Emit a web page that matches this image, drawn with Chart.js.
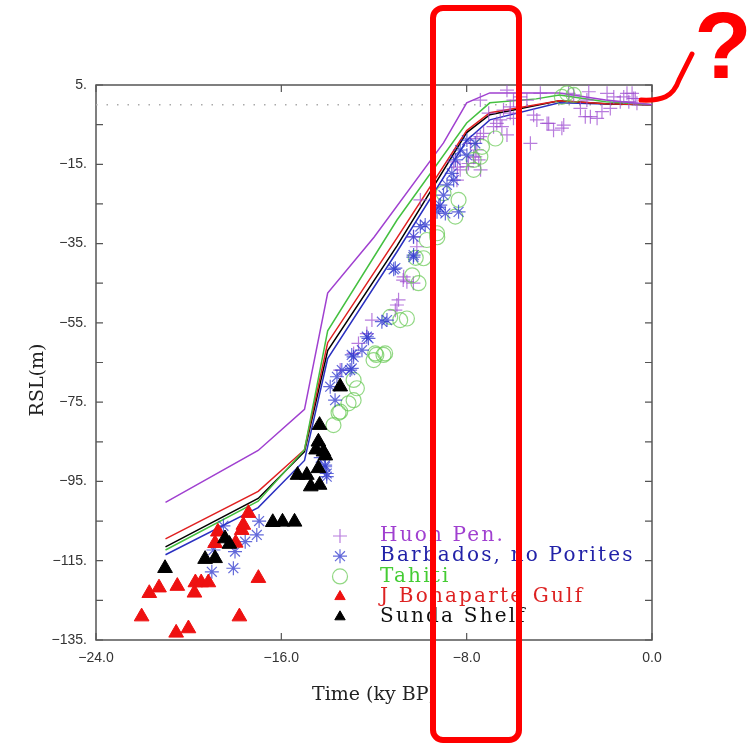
<!DOCTYPE html>
<html lang="en">
<head>
<meta charset="UTF-8">
<title>RSL since LGM</title>
<script src="https://cdn.jsdelivr.net/npm/chart.js"></script>
<style>
    body { margin: 0; padding: 0; background: #fff; }
    #wrap { width: 750px; height: 745px; }
</style>
</head>
<body>
<div id="wrap"><canvas id="rslChart" width="750" height="745"></canvas></div>
<script>
// axis ticks
const xTicks = [-24, -16, -8, 0];
const yTicks = [5, -5, -15, -25, -35, -45, -55, -65, -75, -85, -95, -105, -115, -125, -135];

// model curves (ky BP, m)
const huonModelAge = [-21, -17, -15, -14, -12, -9, -8, -7, -4, -2, 0];
const huonModelRsl = [-100.3, -87.2, -76.8, -47.5, -33.4, -9.6, 0.5, 3, 3, 1.2, 0];
const tahitiModelAge = [-21, -17, -15, -14, -11, -8, -7, -5, -4, -2, 0];
const tahitiModelRsl = [-112.3, -100, -87, -57, -29, -4.6, 0.5, 1.5, 2.5, 0.8, 0];
const bonaparteModelAge = [-21, -17, -15, -14, -11, -8, -7, -4, -2, 0];
const bonaparteModelRsl = [-109.5, -97.5, -87, -60, -33.5, -6.5, -2, 1, 0.3, 0];
const sundaModelAge = [-21, -17, -15, -14, -11, -8, -7, -4, -2, 0];
const sundaModelRsl = [-111.5, -99.3, -87.5, -62, -35.5, -7, -2.5, 1, 0.3, 0];
const barbadosModelAge = [-21, -17, -15, -14, -11, -8, -7, -4, -2, 0];
const barbadosModelRsl = [-113.5, -101.6, -89.7, -64, -37, -9, -3.8, 0.5, 0.2, 0];

// observations
const huonAge = [-12.09, -12.67, -12.31, -13.46, -11.08, -11.01, -10.72, -10.58, -10.94, -12.88, -10.15,
    -10.3, -10.74, -8.4, -7.7, -7.4, -10.0, -10.3,
    -7.27, -7.56, -6.84, -6.55, -6.12, -5.98, -5.40, -5.25, -4.53, -7.63, -7.99, -8.56, -7.05, -6.41, -6.26, -7.41,
    -4.46, -3.81, -4.97, -3.09, -2.66, -2.37, -2.16, -1.80, -1.65, -1.08, -1.37, -6.70, -7.41, -7.84, -7.56, -7.48,
    -7.92, -8.28, -8.42, -6.12, -5.98, -5.69, -4.82, -4.25, -3.89, -3.38, -2.81, -1.94, -0.86, -0.72,
    -2.88, -1.22, -1.00, -0.79, -0.65, -2.73, -3.60, -5.11, -6.48, -6.26];
const huonRsl = [-54.3, -60.2, -57.7, -66.9, -51.8, -50.5, -43.4, -44.6, -49.2, -62.7, -35.8,
    -45, -44.2, -15.7, -13.2, -16.4, -24.0, -33.3,
    -7.2, -8.5, -5.5, -3.8, -2.1, 1.2, 1.2, -9.7, -4.7, -13.1, -15.6, -14.4, -2.1, -1.3, 3.7, 1.2,
    -4.7, -5.1, -3.8, -0.9, -3.0, -3.4, -1.7, -0.9, 2.0, 2.9, 0.8, -4.7, -8.0, -9.7, -11.4, -13.9,
    -14.8, -16.4, -19, -0.5, -3.4, 2.0, 2.9, -6.4, -5.9, 2.5, 1.2, 2.9, 2.9, 1.6,
    -3.0, 2.0, 0.8, 1.6, 0.4, 3.3, 2.9, -2.6, -5.5, -7.6];

const barbadosAge = [-19.00, -18.07, -18.00, -17.56, -17.06, -16.96, -18.50, -18.93, -14.11, -14.04, -14.3,
    -13.68, -13.89, -13.03, -13.39, -13.60, -12.96, -12.88, -12.52, -12.24, -11.66, -11.44, -12.31, -12.96,
    -11.15, -10.29, -10.0, -10.29, -9.14, -9.28, -9.0, -8.56, -7.99, -7.63, -8.35, -8.92, -8.85, -8.64,
    -8.49, -8.28, -7.99, -9.2, -9.79, -10.3, -11.08, -14.11, -14.04];
const barbadosRsl = [-117.8, -116.9, -112.7, -110.2, -108.5, -105, -106.2, -112.3, -90.9, -93.8, -89,
    -74.5, -71.1, -66.9, -66.9, -68.6, -66.5, -63.6, -61.9, -58.9, -54.7, -54.3, -58.5, -63.1,
    -41.5, -37.9, -30.7, -33.3, -25.3, -27.0, -22.8, -19.0, -12.7, -9.7, -27.0, -27.4, -20.2, -17.3,
    -13.9, -11.4, -8.9, -25.8, -30.3, -38.4, -41.2, -91.3, -93.0];

const tahitiAge = [-13.75, -13.53, -13.10, -12.74, -12.88, -12.02, -11.52, -11.95, -12.88, -13.46, -10.87,
    -10.58, -11.30, -10.08, -11.59, -9.72, -9.86, -7.70, -7.70, -7.34, -9.0, -8.49, -9.28, -7.41, -6.76,
    -8.35, -3.67, -3.38, -3.89, -9.27, -10.2, -10.35, -11.9];
const tahitiRsl = [-80.8, -77.7, -75.3, -71.5, -69.4, -64.4, -62.7, -62.7, -74.5, -77.4, -54.3,
    -53.9, -53.5, -45.0, -63.1, -34.1, -38.7, -13.9, -16.4, -10.6, -22.3, -28.2, -32.4, -13.1, -8.5,
    -24.0, 2.9, 2.5, 2.0, -33.4, -38.6, -43, -63.1];

const bonaparteAge = [-22.03, -21.70, -21.28, -20.49, -20.54, -20.01, -19.71, -19.75, -19.46, -19.15, -17.81,
    -16.99, -18.86, -18.74, -17.97, -17.71, -17.64, -17.42];
const bonaparteRsl = [-129.1, -123.2, -121.8, -121.4, -133.2, -132.1, -120.5, -123.1, -120.5, -120.5, -129.1,
    -119.4, -110.6, -107.7, -110.5, -107.3, -106, -103];

const sundaAge = [-21.02, -19.29, -18.86, -18.43, -18.24, -16.37, -15.95, -15.43, -15.30, -14.90, -14.73,
    -14.35, -14.40, -14.40, -14.18, -14.35, -13.46, -14.5, -14.1];
const sundaRsl = [-116.9, -114.6, -114.4, -109.4, -110.8, -105.3, -105.2, -105.2, -93.4, -93.4, -96.3,
    -95.9, -91.7, -85.0, -87.5, -80.8, -71.1, -87, -88.5];

const zeroAge = [-24, 0];
const zeroRsl = [0, 0];

const seriesNames = ['Huon Pen.', 'Barbados, no Porites', 'Tahiti', 'J Bonaparte Gulf', 'Sunda Shelf'];

const toPoints = (xs, ys) => xs.map((x, i) => ({ x: x, y: ys[i] }));
const minus = v => (v < 0 ? '\u2212' + Math.abs(v) : String(v));

const PURPLE = '#a040d0', BLUE = '#2a30c0', GREEN = '#44c040', RED = '#e02020', BLACK = '#000';

function modelLine(xs, ys, color, order) {
    return {
        type: 'line', data: toPoints(xs, ys), borderColor: color, borderWidth: 1.5,
        pointRadius: 0, fill: false, tension: 0, order: order
    };
}

const markerStyles = [
    { pointStyle: 'cross', radius: 7, borderColor: 'rgba(160,80,210,0.75)', backgroundColor: 'transparent', borderWidth: 1.2 },
    { pointStyle: 'star', radius: 7, borderColor: 'rgba(45,55,205,0.75)', backgroundColor: 'transparent', borderWidth: 1.2 },
    { pointStyle: 'circle', radius: 7.5, borderColor: 'rgba(100,200,80,0.7)', backgroundColor: 'transparent', borderWidth: 1.2 },
    { pointStyle: 'triangle', radius: 8.5, borderColor: '#ee1111', backgroundColor: '#ee1111', borderWidth: 1 },
    { pointStyle: 'triangle', radius: 8.5, borderColor: '#000', backgroundColor: '#000', borderWidth: 1 }
];

function markers(xs, ys, i, order) {
    const m = markerStyles[i];
    return {
        type: 'scatter', label: seriesNames[i], data: toPoints(xs, ys),
        pointStyle: m.pointStyle, pointRadius: m.radius, pointBorderColor: m.borderColor,
        pointBackgroundColor: m.backgroundColor, pointBorderWidth: m.borderWidth, order: order
    };
}

const legendColors = [PURPLE, '#2222a8', '#44cc33', '#dd2222', '#111'];

const framePlugin = {
    id: 'frame',
    beforeDatasetsDraw(chart) {
        const { ctx, chartArea: a, scales } = chart;
        ctx.save();
        ctx.strokeStyle = '#555';
        ctx.lineWidth = 1.5;
        ctx.strokeRect(a.left, a.top, a.right - a.left, a.bottom - a.top);
        ctx.lineWidth = 1.2;
        ctx.beginPath();
        yTicks.forEach(v => {
            const py = scales.y.getPixelForValue(v);
            ctx.moveTo(a.left, py); ctx.lineTo(a.left + 7, py);
            ctx.moveTo(a.right, py); ctx.lineTo(a.right - 7, py);
        });
        xTicks.forEach(v => {
            const px = scales.x.getPixelForValue(v);
            ctx.moveTo(px, a.bottom); ctx.lineTo(px, a.bottom - 7);
            ctx.moveTo(px, a.top); ctx.lineTo(px, a.top + 7);
        });
        ctx.stroke();
        ctx.restore();
    },
    afterDatasetsDraw(chart) {
        const { ctx, chartArea: a } = chart;
        ctx.save();
        // axis titles
        ctx.fillStyle = '#222';
        ctx.font = '19px "DejaVu Serif"';
        ctx.textAlign = 'center';
        ctx.textBaseline = 'middle';
        ctx.fillText('Time (ky BP)', (a.left + a.right) / 2, 695);
        ctx.translate(38, 380);
        ctx.rotate(-Math.PI / 2);
        ctx.fillText('RSL(m)', 0, 0);
        ctx.restore();

        // legend inside the plot
        ctx.save();
        ctx.font = '20px "DejaVu Serif"';
        ctx.textAlign = 'left';
        ctx.textBaseline = 'middle';
        if ('letterSpacing' in ctx) ctx.letterSpacing = '2.2px';
        seriesNames.forEach((name, i) => {
            const y = 536 + i * 20.2;
            const m = markerStyles[i];
            ctx.strokeStyle = m.borderColor;
            ctx.fillStyle = m.backgroundColor;
            ctx.lineWidth = m.borderWidth;
            Chart.helpers.drawPoint(ctx, { pointStyle: m.pointStyle, radius: i > 2 ? 6 : m.radius, borderWidth: m.borderWidth }, 340, y);
            ctx.fillStyle = legendColors[i];
            ctx.fillText(name, 380, y);
        });
        ctx.restore();
    },
    afterDraw(chart) {
        const ctx = chart.ctx;
        ctx.save();
        ctx.strokeStyle = '#ff0000';
        ctx.lineWidth = 6;
        ctx.beginPath();
        ctx.roundRect(433, 8, 86, 732, 10);
        ctx.stroke();
        ctx.lineCap = 'round';
        ctx.lineWidth = 5;
        ctx.beginPath();
        ctx.moveTo(641, 100);
        ctx.bezierCurveTo(662, 101, 673, 97, 679, 80);
        ctx.lineTo(692, 54);
        ctx.stroke();
        ctx.fillStyle = '#ff0000';
        ctx.font = 'bold 94px "Liberation Sans"';
        ctx.textAlign = 'center';
        ctx.textBaseline = 'alphabetic';
        ctx.fillText('?', 723, 78);
        ctx.restore();
    }
};

new Chart(document.getElementById('rslChart'), {
    type: 'scatter',
    data: {
        datasets: [
            markers(sundaAge, sundaRsl, 4, 1),
            markers(bonaparteAge, bonaparteRsl, 3, 2),
            markers(barbadosAge, barbadosRsl, 1, 3),
            markers(tahitiAge, tahitiRsl, 2, 4),
            markers(huonAge, huonRsl, 0, 5),
            modelLine(huonModelAge, huonModelRsl, PURPLE, 6),
            modelLine(tahitiModelAge, tahitiModelRsl, GREEN, 7),
            modelLine(bonaparteModelAge, bonaparteModelRsl, RED, 8),
            modelLine(sundaModelAge, sundaModelRsl, BLACK, 9),
            modelLine(barbadosModelAge, barbadosModelRsl, BLUE, 10),
            {
                type: 'line', data: toPoints(zeroAge, zeroRsl), borderColor: '#aaa', borderWidth: 1.5,
                borderDash: [1.5, 9], pointRadius: 0, order: 11
            }
        ]
    },
    options: {
        responsive: false,
        animation: false,
        layout: { padding: { left: 0, top: 85, right: 98, bottom: 0 } },
        plugins: { legend: { display: false }, tooltip: { enabled: false } },
        scales: {
            x: {
                type: 'linear', min: -24, max: 0,
                grid: { display: false, drawTicks: false },
                border: { display: false },
                afterBuildTicks: s => { s.ticks = xTicks.map(v => ({ value: v })); },
                afterFit: s => { s.height = 105; },
                ticks: {
                    autoSkip: false, maxRotation: 0, padding: 10, color: '#333',
                    font: { family: 'Liberation Sans', size: 14 },
                    callback: v => (v < 0 ? '\u2212' : '') + Math.abs(v).toFixed(1)
                }
            },
            y: {
                type: 'linear', min: -135, max: 5,
                grid: { display: false, drawTicks: false },
                border: { display: false },
                afterBuildTicks: s => { s.ticks = yTicks.map(v => ({ value: v })); },
                afterFit: s => { s.width = 96; },
                ticks: {
                    autoSkip: false, padding: 9, color: '#333',
                    font: { family: 'Liberation Sans', size: 14 },
                    callback: v => ((5 - v) % 20 === 0 ? minus(v) + '.' : '')
                }
            }
        }
    },
    plugins: [framePlugin]
});
</script>
</body>
</html>
